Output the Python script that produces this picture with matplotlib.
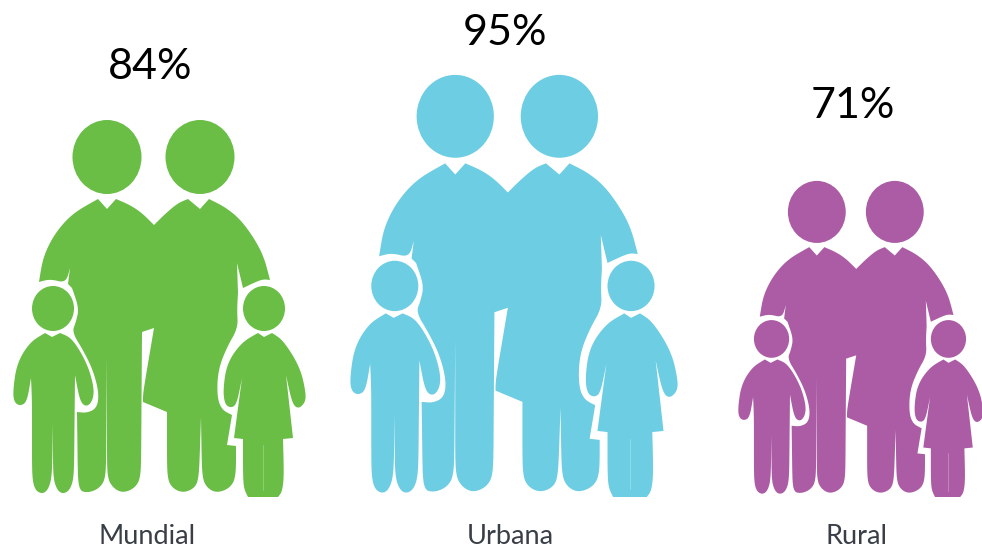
import numpy as np
import matplotlib.pyplot as plt
from matplotlib.patches import Ellipse, Polygon

categories = ["Mundial", "Urbana", "Rural"]
values = [84, 95, 71]
colors = ["#6ABD45", "#6DCDE3", "#AC5CA5"]

# layout of each group, in pixels
left_edge = [13, 350, 738]
size_fit = [1.0, 0.99, 0.992]
label_x = [147, 510, 857]
pct_x = [150, 505, 853]
pct_y = [67, 33, 106]
baseline = 497

# icon outlines, traced at the size of the 84% group
adults = [
    (98, 199), (107, 209), (116, 199), (130, 205), (142, 213), (154, 225), (165, 214),
    (178, 203), (188, 199), (200, 209), (209, 199), (225, 207), (240, 219), (254, 238),
    (264, 257), (270, 280), (262, 279), (243, 288), (237, 263), (238, 293), (237, 310),
    (238, 328), (227, 347), (218, 370), (217, 397), (222, 410), (232, 415), (227, 445),
    (236, 446), (236, 477), (230, 488), (217, 493), (207, 488), (202, 477), (201, 417),
    (199, 477), (195, 488), (183, 493), (172, 488), (167, 477), (167, 412), (143, 402),
    (143, 393), (154, 328), (142, 332), (141, 477), (135, 488), (123, 493), (113, 488),
    (107, 477), (107, 355), (106, 477), (100, 488), (88, 493), (78, 490), (77, 412),
    (87, 413), (97, 408), (99, 393), (93, 370), (83, 350), (72, 332), (76, 322), (79, 308),
    (72, 288), (68, 284), (70, 268), (66, 283), (50, 279), (39, 282), (43, 257),
    (55, 233), (73, 213),
]
boy = [
    (45, 333), (52, 337), (60, 333), (72, 338), (87, 363), (94, 387), (93, 400), (87, 407),
    (80, 402), (75, 375), (74, 477), (70, 490), (63, 494), (57, 490), (53, 477), (53, 423),
    (52, 477), (48, 490), (42, 494), (35, 490), (32, 477), (32, 400), (31, 378), (27, 402),
    (20, 406), (14, 402), (13, 390), (17, 363), (30, 342),
]
girl = [
    (258, 333), (264, 337), (272, 333), (283, 340), (300, 367), (306, 393), (305, 403),
    (298, 409), (292, 403), (286, 375), (293, 438), (283, 439), (284, 477), (282, 492),
    (278, 497), (248, 497), (243, 487), (243, 439), (234, 438), (242, 378), (237, 403),
    (232, 408), (225, 405), (223, 390), (227, 363), (242, 342),
]
heads = [(107, 157, 34.5, 37), (200, 157, 34.5, 37), (53, 308.5, 21, 22.5), (264, 308.5, 21, 22.5)]

# corners that stay pointed when the outlines are smoothed
sharp = {
    (98, 199), (107, 209), (116, 199), (154, 225), (188, 199), (200, 209), (209, 199),
    (270, 280), (243, 288), (237, 263), (238, 293), (232, 415), (227, 445), (236, 446),
    (201, 417), (167, 412), (143, 402), (154, 328), (142, 332), (107, 355), (77, 412),
    (72, 288), (68, 284), (70, 268), (39, 282),
    (45, 333), (52, 337), (60, 333), (75, 375), (53, 423), (31, 378),
    (258, 333), (264, 337), (272, 333), (286, 375), (293, 438), (283, 439), (278, 497),
    (248, 497), (243, 439), (234, 438), (242, 378),
}


def smooth(points, passes=3):
    pts = [(tuple(map(float, p)), tuple(p) in sharp) for p in points]
    for _ in range(passes):
        out = []
        n = len(pts)
        for i in range(n):
            p, is_sharp = pts[i]
            if is_sharp:
                out.append((p, True))
                continue
            prev = np.array(pts[i - 1][0])
            nxt = np.array(pts[(i + 1) % n][0])
            here = np.array(p)
            for other in (prev, nxt):
                seg = other - here
                frac = min(0.25, 9.0 / max(np.hypot(*seg), 1e-6))
                out.append((tuple(here + seg * frac), False))
        pts = out
    return np.array([p for p, _ in pts])


def draw_family(ax, value, color, x0, fit):
    s = value / values[0] * fit

    def place(pts):
        pts = np.asarray(pts, dtype=float)
        return np.column_stack([x0 + (pts[:, 0] - 13) * s, baseline + (pts[:, 1] - 497) * s])

    for shape in [adults, boy, girl]:
        ax.add_patch(Polygon(place(smooth(shape)), closed=True, fc=color, ec="none"))
    for cx, cy, rx, ry in heads:
        center = place([(cx, cy)])[0]
        ax.add_patch(Ellipse(center, 2 * rx * s, 2 * ry * s, fc=color, ec="none"))
    # faint seam down the girl's legs
    seam = place([(263, 445), (263, 490)])
    ax.plot(seam[:, 0], seam[:, 1], color="white", lw=0.5, alpha=0.35)


fig = plt.figure(figsize=(9.82, 5.51), dpi=100)
ax = fig.add_axes([0, 0, 1, 1])
ax.set_xlim(0, 982)
ax.set_ylim(551, 0)
ax.axis("off")

for i in range(len(categories)):
    draw_family(ax, values[i], colors[i], left_edge[i], size_fit[i])
    ax.text(pct_x[i], pct_y[i], f"{values[i]}%", ha="center", va="center",
            family="Lato", fontsize=31, color="black")
    ax.text(label_x[i], 544.5, categories[i], ha="center", va="baseline",
            family="Lato", fontsize=19.5, color="#3A3F47")

plt.savefig("out.png", dpi=100)
plt.close()
